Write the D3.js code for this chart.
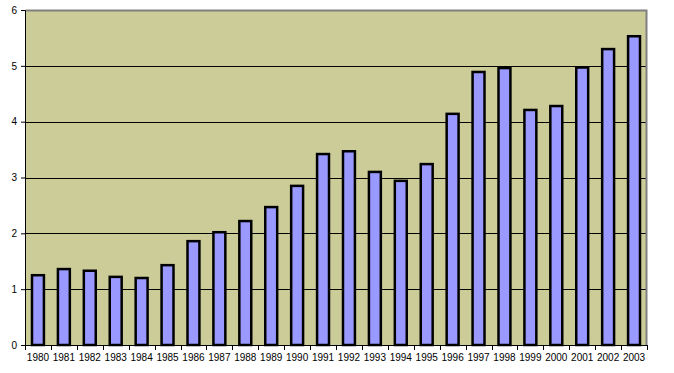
<!DOCTYPE html>
<html>
<head>
<meta charset="utf-8">
<script src="https://cdn.jsdelivr.net/npm/d3@7"></script>
<style>
  body { margin: 0; background: #fff; }
  svg { display: block; }
  .tick text { font-family: Arial, "Liberation Sans", sans-serif; font-size: 10px; fill: #000; }
</style>
</head>
<body>
<svg width="674" height="373"></svg>
<script>
const years = ["1980", "1981", "1982", "1983", "1984", "1985", "1986", "1987", "1988", "1989",
  "1990", "1991", "1992", "1993", "1994", "1995", "1996", "1997", "1998", "1999",
  "2000", "2001", "2002", "2003"];
const values = [1.25, 1.36, 1.33, 1.22, 1.20, 1.43, 1.86, 2.02, 2.22, 2.47,
  2.85, 3.42, 3.47, 3.10, 2.94, 3.24, 4.14, 4.89, 4.96, 4.21,
  4.28, 4.97, 5.30, 5.53];
const yTicks = [0, 1, 2, 3, 4, 5, 6];

const PLOT_BG = "#CCCC99";
const BAR = "#9999FF";

// plot area
const m = { top: 10, right: 27, bottom: 28, left: 25 };
const w = 674 - m.left - m.right;
const h = 373 - m.top - m.bottom;

const svg = d3.select("svg");
const g = svg.append("g").attr("transform", `translate(${m.left},${m.top})`);

const x = d3.scaleBand().domain(years).range([0, w]).paddingInner(0.54).paddingOuter(0.27);
const y = d3.scaleLinear().domain([0, 6]).range([h, 0]);

g.append("rect")
  .attr("width", w).attr("height", h)
  .attr("fill", PLOT_BG);

// grid lines
g.selectAll(".grid")
  .data(yTicks.filter(d => d > 0 && d < 6))
  .enter().append("line")
  .attr("x1", 0).attr("x2", w)
  .attr("y1", d => Math.round(y(d)) + 0.5).attr("y2", d => Math.round(y(d)) + 0.5)
  .attr("stroke", "#000").attr("stroke-width", 1);

// gray frame top and right
g.append("path")
  .attr("d", `M0.5,0.5H${w - 0.5}V${h}`)
  .attr("fill", "none").attr("stroke", "#808080").attr("stroke-width", 2);

// bars
g.selectAll(".bar")
  .data(values)
  .enter().append("rect")
  .attr("x", (d, i) => x(years[i]))
  .attr("y", d => y(d))
  .attr("width", x.bandwidth())
  .attr("height", d => h - y(d))
  .attr("fill", BAR)
  .attr("stroke", "#000")
  .attr("stroke-width", 2.5);

// y axis
const yAxis = g.append("g")
  .call(d3.axisLeft(y).tickValues(yTicks).tickFormat(d3.format("d")).tickSize(4).tickPadding(4));
yAxis.select(".domain").attr("stroke", "#000");

// x axis with ticks between categories
const step = x.step();
const xAxis = g.append("g").attr("transform", `translate(0,${h})`);
xAxis.append("line")
  .attr("x1", 0).attr("x2", w).attr("y1", 0.5).attr("y2", 0.5)
  .attr("stroke", "#000");
xAxis.selectAll(".sep")
  .data(d3.range(years.length + 1))
  .enter().append("line")
  .attr("x1", i => Math.round(i * w / years.length) + 0.5)
  .attr("x2", i => Math.round(i * w / years.length) + 0.5)
  .attr("y1", 0).attr("y2", 5)
  .attr("stroke", "#000");
xAxis.selectAll(".lbl")
  .data(years)
  .enter().append("text")
  .attr("class", "tick")
  .attr("x", d => x(d) + x.bandwidth() / 2)
  .attr("y", 16)
  .attr("text-anchor", "middle")
  .style("font-family", "Arial, 'Liberation Sans', sans-serif")
  .style("font-size", "10px")
  .text(d => d);
</script>
</body>
</html>
